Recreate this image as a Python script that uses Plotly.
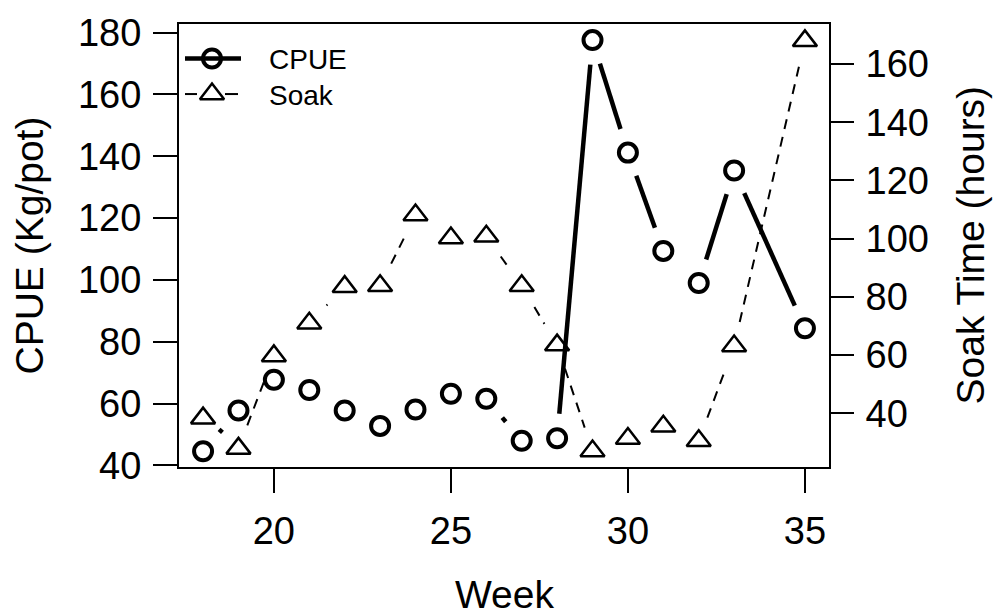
import math
import plotly.graph_objects as go

# Weekly catch-per-unit-effort and soak time
weeks = [18, 19, 20, 21, 22, 23, 24, 25, 26, 27, 28, 29, 30, 31, 32, 33, 35]
cpue = [44.6, 57.8, 67.7, 64.4, 57.8, 52.8, 58.1, 63.2, 61.6, 48.0, 48.8,
        177.6, 141.2, 109.4, 99.0, 135.4, 84.4]
soak = [38.3, 27.9, 59.7, 70.9, 83.5, 83.8, 108.1, 100.2, 100.8, 83.8, 63.4,
        27.0, 31.3, 35.5, 30.5, 63.1, 168.0]

x_ticks = [20, 25, 30, 35]
cpue_ticks = [40, 60, 80, 100, 120, 140, 160, 180]
soak_ticks = [40, 60, 80, 100, 120, 140, 160]

W, H = 996, 616
ML, MR, MT, MB = 179, 167, 18, 149
PW, PH = W - ML - MR, H - MT - MB

X_RANGE = [17.32, 35.68]
Y1_RANGE = [39.5, 182.8]
Y2_RANGE = [21.5, 173.8]

FONT = "Liberation Sans, Arial, sans-serif"


def gapped(xs, ys, yr, gap=25.0):
    """Line segments between points, trimmed around each point (type 'b')."""
    sx = PW / (X_RANGE[1] - X_RANGE[0])
    sy = PH / (yr[1] - yr[0])
    gx, gy = [], []
    for i in range(len(xs) - 1):
        dx = (xs[i + 1] - xs[i]) * sx
        dy = (ys[i + 1] - ys[i]) * sy
        d = math.hypot(dx, dy)
        if d <= 2 * gap:
            continue
        t = gap / d
        x0 = xs[i] + t * (xs[i + 1] - xs[i])
        y0 = ys[i] + t * (ys[i + 1] - ys[i])
        x1 = xs[i + 1] - t * (xs[i + 1] - xs[i])
        y1 = ys[i + 1] - t * (ys[i + 1] - ys[i])
        gx += [x0, x1, None]
        gy += [y0, y1, None]
    return gx, gy


CIRCLE = dict(symbol="circle-open", size=18, color="black",
              line=dict(color="black", width=4))
TRIANGLE = dict(symbol="triangle-up-open", size=21, color="black",
                line=dict(color="black", width=2.5))

fig = go.Figure()

cx, cy = gapped(weeks, cpue, Y1_RANGE)
fig.add_trace(go.Scatter(x=cx, y=cy, mode="lines",
                         line=dict(color="black", width=4.5),
                         hoverinfo="skip", showlegend=False))
fig.add_trace(go.Scatter(x=weeks, y=cpue, mode="markers", name="CPUE",
                         marker=CIRCLE, showlegend=False))

sx_, sy_ = gapped(weeks, soak, Y2_RANGE)
fig.add_trace(go.Scatter(x=sx_, y=sy_, mode="lines", yaxis="y2",
                         line=dict(color="black", width=2, dash="10px,8px"),
                         hoverinfo="skip", showlegend=False))
fig.add_trace(go.Scatter(x=weeks, y=soak, mode="markers", name="Soak",
                         yaxis="y2", marker=TRIANGLE, showlegend=False))


# Legend keys drawn on an overlay axis spanning the plot area
def px_x(p):
    return (p - ML) / PW


def px_y(p):
    return (MT + PH - p) / PH


r1, r2 = px_y(53), px_y(89)
fig.add_trace(go.Scatter(x=[px_x(185), px_x(241)], y=[r1, r1], mode="lines",
                         xaxis="x2", yaxis="y3",
                         line=dict(color="black", width=4.5),
                         hoverinfo="skip", showlegend=False))
fig.add_trace(go.Scatter(x=[px_x(212)], y=[r1], mode="markers",
                         xaxis="x2", yaxis="y3", marker=CIRCLE,
                         hoverinfo="skip", showlegend=False))
fig.add_trace(go.Scatter(x=[px_x(185), px_x(197), None, px_x(225), px_x(238)],
                         y=[r2, r2, None, r2, r2], mode="lines",
                         xaxis="x2", yaxis="y3",
                         line=dict(color="black", width=2),
                         hoverinfo="skip", showlegend=False))
fig.add_trace(go.Scatter(x=[px_x(212)], y=[r2], mode="markers",
                         xaxis="x2", yaxis="y3", marker=TRIANGLE,
                         hoverinfo="skip", showlegend=False))

axis_common = dict(ticks="outside", ticklen=24, tickwidth=2, tickcolor="black",
                   showgrid=False, zeroline=False,
                   tickfont=dict(family=FONT, size=38, color="black"))

fig.update_layout(
    width=W, height=H,
    margin=dict(l=ML, r=MR, t=MT, b=MB),
    paper_bgcolor="white", plot_bgcolor="white",
    showlegend=False,
    xaxis=dict(range=X_RANGE, tickvals=x_ticks, showline=True, linewidth=2,
               linecolor="black", mirror=True, ticklabelstandoff=5,
               **axis_common),
    yaxis=dict(range=Y1_RANGE, tickvals=cpue_ticks, showline=True, linewidth=2,
               linecolor="black", mirror=True, ticklabelstandoff=4,
               **axis_common),
    yaxis2=dict(range=Y2_RANGE, tickvals=soak_ticks, overlaying="y",
                side="right", showline=False, ticklabelstandoff=4,
                **axis_common),
    xaxis2=dict(range=[0, 1], overlaying="x", visible=False),
    yaxis3=dict(range=[0, 1], overlaying="y", visible=False),
    annotations=[
        dict(text="CPUE", x=px_x(267), y=px_y(54), xref="paper", yref="paper",
             xanchor="left", yanchor="middle", showarrow=False,
             font=dict(family=FONT, size=28, color="black")),
        dict(text="Soak", x=px_x(267), y=px_y(90), xref="paper", yref="paper",
             xanchor="left", yanchor="middle", showarrow=False,
             font=dict(family=FONT, size=28, color="black")),
        dict(text="Week", x=0.5, y=px_y(596), xref="paper", yref="paper",
             xanchor="center", yanchor="middle", showarrow=False,
             font=dict(family=FONT, size=39, color="black")),
        dict(text="CPUE (Kg/pot)", x=px_x(29), y=0.5, xref="paper",
             yref="paper", xanchor="center", yanchor="middle", textangle=-90,
             showarrow=False, font=dict(family=FONT, size=39, color="black")),
        dict(text="Soak Time (hours)", x=px_x(970), y=0.5, xref="paper",
             yref="paper", xanchor="center", yanchor="middle", textangle=-90,
             showarrow=False, font=dict(family=FONT, size=39, color="black")),
    ],
)

fig.write_html("out.html")
